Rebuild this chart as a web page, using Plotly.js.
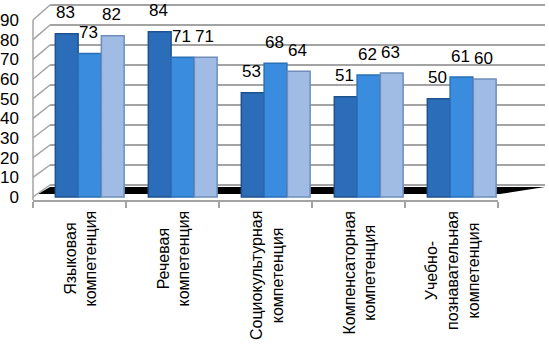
<!DOCTYPE html>
<html>
<head>
<meta charset="utf-8">
<script src="https://cdn.plot.ly/plotly-3.0.1.min.js"></script>
<style>html,body{margin:0;padding:0;background:#fff;}#chart{width:549px;height:344px;}</style>
</head>
<body>
<div id="chart"></div>
<script>
// ---- data ----
var categories = ["Языковая компетенция", "Речевая компетенция", "Социокультурная компетенция", "Компенсаторная компетенция", "Учебно-познавательная компетенция"];
var categoryLabels = ["Языковая<br>компетенция", "Речевая<br>компетенция", "Социокультурная<br>компетенция", "Компенсаторная<br>компетенция", "Учебно-<br>познавательная<br>компетенция"];
var series1 = [83, 84, 53, 51, 50];
var series2 = [73, 71, 68, 62, 61];
var series3 = [82, 71, 64, 63, 60];
var yTicks = [0, 10, 20, 30, 40, 50, 60, 70, 80, 90];

// ---- styling / geometry ----
var seriesList = [series1, series2, series3];
var colors = ["#2C6DB9", "#3A8DDE", "#A0BCE4"];
var edgeColors = ["#1E528F", "#2A70B8", "#6F8DBB"];
var offsets = [-0.26, -0.015, 0.235];
var barWidth = 0.245;
var pxPerCat = 465 / categories.length;
var pxPerUnit = 177 / 90;
function backY(v) { return (12 + 2 * v) / pxPerUnit; }
var backX0 = 17 / 465, backX1 = 512 / 465;
var gridColor = "#A3A3A3";

var traces = seriesList.map(function (vals, i) {
  return {
    type: "bar", x: categories, y: vals,
    offset: offsets[i], width: barWidth,
    marker: { color: colors[i], line: { color: edgeColors[i], width: 1.5 } },
    hoverinfo: "y", showlegend: false
  };
});

var shapes = [];
// floor (thin dark slab)
var floorFront = 3 / pxPerUnit, floorBack = 10 / pxPerUnit;
shapes.push({
  type: "path", xref: "paper", yref: "y", layer: "below",
  path: "M " + (5 / 465) + " " + floorFront + " L " + (467 / 465) + " " + floorFront +
        " L " + backX1 + " " + floorBack + " L " + backX0 + " " + floorBack + " Z",
  fillcolor: "#000000", line: { color: "#000000", width: 0 }
});
yTicks.forEach(function (v) {
  // back wall gridlines
  shapes.push({ type: "line", xref: "paper", yref: "y", layer: "below",
    x0: backX0, x1: backX1, y0: backY(v), y1: backY(v),
    line: { color: gridColor, width: 2 } });
  // left wall diagonals
  shapes.push({ type: "line", xref: "paper", yref: "y", layer: "below",
    x0: 0, x1: backX0, y0: v, y1: backY(v),
    line: { color: gridColor, width: 1.5 } });
});
// left axis line
shapes.push({ type: "line", xref: "paper", yref: "paper", x0: 0, x1: 0, y0: 0, y1: 180 / 197,
  line: { color: gridColor, width: 1.5 } });

var annotations = [];
seriesList.forEach(function (vals, i) {
  vals.forEach(function (v, j) {
    annotations.push({
      x: categories[j], y: v, xref: "x", yref: "y",
      text: String(v), showarrow: false,
      xshift: (offsets[i] + barWidth / 2) * pxPerCat - 1, yshift: 21,
      xanchor: "center", yanchor: "middle",
      font: { family: "Liberation Sans, Arial, sans-serif", size: 17, color: "#000" }
    });
  });
});
categoryLabels.forEach(function (t, j) {
  annotations.push({
    x: categories[j], y: -9 / 197, xref: "x", yref: "paper",
    text: t, showarrow: false, textangle: -90, align: "center",
    xanchor: "center", yanchor: "top", xshift: 1,
    font: { family: "Liberation Sans, Arial, sans-serif", size: 16, color: "#000" }
  });
});

var layout = {
  width: 549, height: 344,
  margin: { l: 33, r: 51, t: 3, b: 144 },
  paper_bgcolor: "#ffffff", plot_bgcolor: "rgba(0,0,0,0)",
  barmode: "overlay",
  xaxis: {
    type: "category", range: [-0.5, 4.5], showticklabels: false,
    tickson: "boundaries", ticks: "outside", ticklen: 6, tickcolor: gridColor, tickwidth: 1.5,
    showline: true, linecolor: gridColor, linewidth: 1.5, showgrid: false, zeroline: false, fixedrange: true
  },
  yaxis: {
    range: [-3 / pxPerUnit, 194 / pxPerUnit], tickvals: yTicks, ticktext: yTicks.map(String),
    showgrid: false, zeroline: false, showline: false, ticks: "", ticklabelstandoff: 13,
    tickfont: { family: "Liberation Sans, Arial, sans-serif", size: 17, color: "#000" }, fixedrange: true
  },
  shapes: shapes,
  annotations: annotations
};

Plotly.newPlot("chart", traces, layout, { displayModeBar: false, staticPlot: true });
</script>
</body>
</html>
